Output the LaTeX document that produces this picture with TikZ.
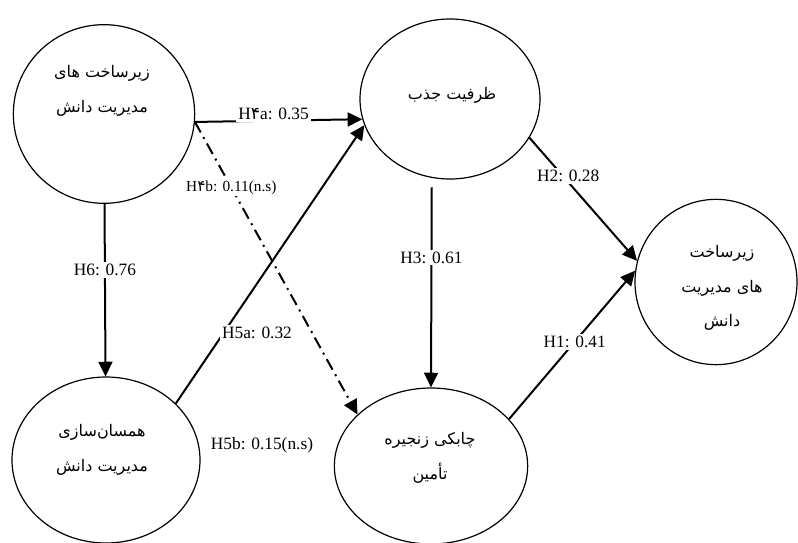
\documentclass[tikz,border=0pt]{standalone}
\usepackage{fontspec}
\setmainfont{Liberation Serif}
\newfontfamily\fa[Script=Arabic]{DejaVu Sans}
\TeXXeTstate=1
\usetikzlibrary{arrows.meta,shapes.geometric}

\begin{document}
\begin{tikzpicture}[x=0.75pt,y=-0.75pt,>={Triangle[length=11pt,width=10.5pt]},
  font=\fontsize{13}{15}\selectfont,
  var/.style={draw,ellipse,line width=0.9pt,inner sep=0pt},
  fatxt/.style={align=center,font=\fa\fontsize{12}{26}\selectfont},
  eff/.style={->,line width=1.5pt},
  coef/.style={fill=white,inner sep=1.5pt}]
  \useasboundingbox (0,0) rectangle (798,542);
  % constructs
  \node[var,minimum width=136pt,minimum height=134pt] (infra) at (104,114) {};
  \node[var,minimum width=135pt,minimum height=120pt] (absorb) at (450,99) {};
  \node[var,minimum width=121.5pt,minimum height=124pt] (infrar) at (716,282) {};
  \node[var,minimum width=141pt,minimum height=124.5pt] (align) at (106,460) {};
  \node[var,minimum width=145pt,minimum height=117pt] (agil) at (431,466) {};
  \node[fatxt] (infra-t) at (102,91) {\beginR زیرساخت های\endR\\\beginR مدیریت دانش\endR};
  \node[fatxt] (absorb-t) at (452,95) {\beginR ظرفیت جذب\endR};
  \node[fatxt] (infrar-t) at (722,288) {\beginR زیرساخت\endR\\\beginR های مدیریت\endR\\\beginR دانش\endR};
  \node[fatxt] (align-t) at (102,450) {\beginR همسان‌سازی\endR\\\beginR مدیریت دانش\endR};
  \node[fatxt] (agil-t) at (430,458) {\beginR چابکی زنجیره\endR\\\beginR تأمین\endR};
  % paths
  \draw[eff] (infra.-5) -- node[coef,pos=.47,yshift=5pt]{H{\fa ۴}a: 0.35} (absorb.193);
  \draw[eff,dash pattern=on 9pt off 4pt on 1.5pt off 4pt] (infra.-5) --
    node[coef,pos=.224,font=\fontsize{11.5}{13}\selectfont]{H{\fa ۴}b: 0.11(n.s)} (agil.145);
  \draw[eff] (infra) -- node[coef,pos=.385]{H6: 0.76} (align);
  \draw[eff] (align.39) -- node[coef,pos=.254,xshift=25pt]{H5a: 0.32} (absorb.197);
  \draw[eff,shorten <=7pt] (absorb.-103) -- node[coef,pos=.38]{H3: 0.61} (agil.north);
  \draw[eff] (absorb.-26) -- node[coef,pos=.31,xshift=4pt]{H2: 0.28} (infrar.165);
  \draw[eff] (agil.31) -- node[coef,pos=.52]{H1: 0.41} (infrar.172);
  \node (h5b) at (262,445) {H5b: 0.15(n.s)};
\end{tikzpicture}
\end{document}
